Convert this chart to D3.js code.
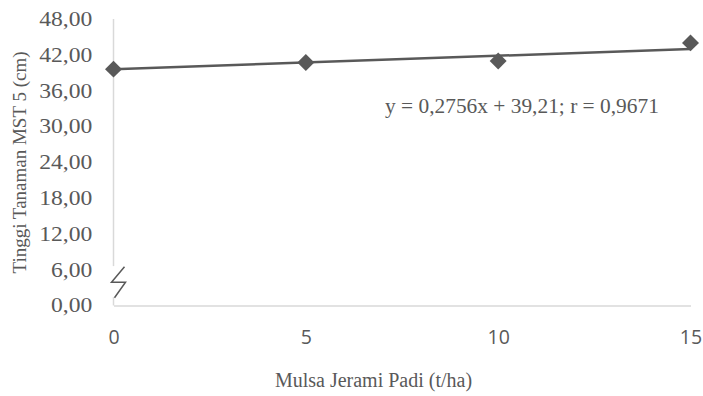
<!DOCTYPE html>
<html>
<head>
<meta charset="utf-8">
<script src="https://cdn.jsdelivr.net/npm/d3@7"></script>
<style>
    body { margin: 0; background: #fff; }
    svg { display: block; }
</style>
</head>
<body>
<svg id="chart-svg"></svg>
<script>
// Data
var doses = [0, 5, 10, 15];
var heights = [39.6, 40.7, 40.95, 44.0];
var trendX = [0, 15];
var trendY = [39.6, 42.97];
var yTicks = [0, 6, 12, 18, 24, 30, 36, 42, 48];
var equationText = 'y = 0,2756x + 39,21; r = 0,9671';
var xTitle = 'Mulsa Jerami Padi (t/ha)';
var yTitle = 'Tinggi Tanaman MST 5 (cm)';

var width = 703, height = 396;
var grey = '#595959';
var axisGrey = '#d9d9d9';
var serif = '"Liberation Serif", "Times New Roman", serif';

var svg = d3.select('#chart-svg')
    .attr('width', width)
    .attr('height', height);

// Scales
var xScale = d3.scaleLinear().domain([0, 15]).range([113.5, 690.5]);
var yScale = d3.scaleLinear().domain([0, 48]).range([305.5, 19]);

// comma decimal format
var locale = d3.formatLocale({ decimal: ',', thousands: '.', grouping: [3], currency: ['', ''] });
var fmt = locale.format('.2f');

// Y axis (labels only, line drawn by hand because of the break)
var yAxis = d3.axisLeft(yScale)
    .tickValues(yTicks)
    .tickSize(0)
    .tickPadding(18)
    .tickFormat(fmt);

var yAxisG = svg.append('g')
    .attr('transform', 'translate(' + xScale(0) + ',0)')
    .call(yAxis);
yAxisG.select('.domain').remove();
yAxisG.selectAll('text')
    .attr('fill', grey)
    .style('font-family', serif)
    .style('font-size', '20px')
    .attr('transform', 'scale(1.18,1)');

// X axis
var xAxis = d3.axisBottom(xScale)
    .tickValues(doses)
    .tickSize(0)
    .tickPadding(25)
    .tickFormat(d3.format('d'));

var xAxisG = svg.append('g')
    .attr('transform', 'translate(0,' + yScale(0) + ')')
    .call(xAxis);
xAxisG.select('.domain')
    .attr('stroke', axisGrey)
    .attr('stroke-width', 1.5);
xAxisG.selectAll('text')
    .attr('fill', grey)
    .style('font-family', '"Open Sans", "Liberation Sans", sans-serif')
    .style('font-size', '19.5px');

// vertical axis line with break
var x0 = xScale(0);
svg.append('line')
    .attr('x1', x0).attr('x2', x0)
    .attr('y1', yScale(48)).attr('y2', yScale(6.6))
    .attr('stroke', axisGrey).attr('stroke-width', 1.5);
svg.append('line')
    .attr('x1', x0).attr('x2', x0)
    .attr('y1', yScale(1.4)).attr('y2', yScale(0))
    .attr('stroke', axisGrey).attr('stroke-width', 1.5);
svg.append('path')
    .attr('d', 'M' + (x0 + 11) + ',' + yScale(6.5) +
        'L' + (x0 - 2) + ',' + yScale(3.9) +
        'L' + (x0 + 12) + ',' + yScale(3.9) +
        'L' + (x0 + 1) + ',' + yScale(1.3))
    .attr('fill', 'none')
    .attr('stroke', grey)
    .attr('stroke-width', 1.5);

// trend line
svg.append('line')
    .attr('x1', xScale(trendX[0])).attr('y1', yScale(trendY[0]))
    .attr('x2', xScale(trendX[1])).attr('y2', yScale(trendY[1]))
    .attr('stroke', grey)
    .attr('stroke-width', 2.5);

// markers
var diamond = d3.symbol().type(d3.symbolSquare).size(144);
svg.selectAll('.dot')
    .data(doses)
    .enter()
    .append('path')
    .attr('class', 'dot')
    .attr('d', diamond)
    .attr('transform', function(d, i) {
        return 'translate(' + xScale(d) + ',' + yScale(heights[i]) + ') rotate(45)';
    })
    .attr('fill', grey);

// equation
svg.append('text')
    .attr('x', 385)
    .attr('y', 113)
    .attr('fill', grey)
    .style('font-family', serif)
    .style('font-size', '21.4px')
    .text(equationText);

// axis titles
svg.append('text')
    .attr('x', 373.5)
    .attr('y', 387)
    .attr('text-anchor', 'middle')
    .attr('fill', grey)
    .style('font-family', serif)
    .style('font-size', '20px')
    .text(xTitle);

svg.append('text')
    .attr('transform', 'translate(26,162.5) rotate(-90)')
    .attr('text-anchor', 'middle')
    .attr('fill', grey)
    .style('font-family', serif)
    .style('font-size', '19px')
    .text(yTitle);
</script>
</body>
</html>
